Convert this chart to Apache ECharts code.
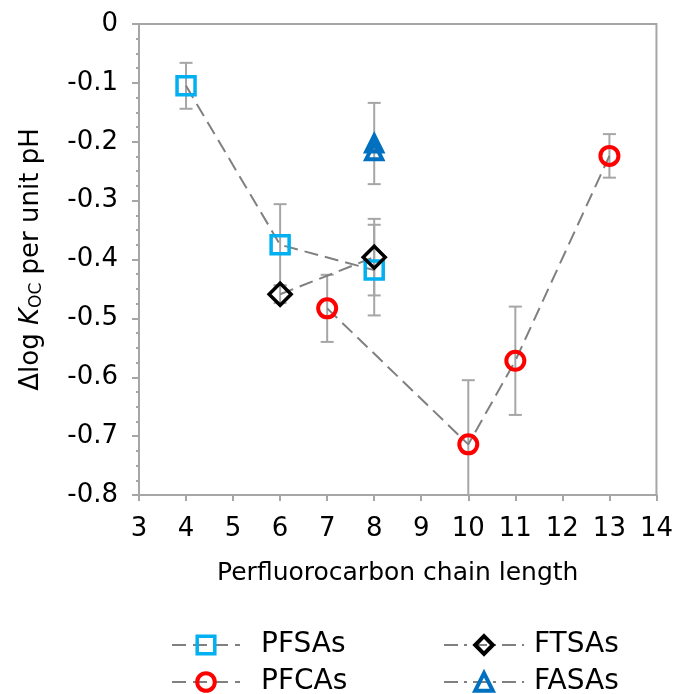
<!DOCTYPE html>
<html>
<head>
<meta charset="utf-8">
<script src="https://cdn.jsdelivr.net/npm/echarts@6/dist/echarts.min.js"></script>
<style>html,body{margin:0;padding:0;background:#fff;}#c{width:676px;height:694px;}</style>
</head>
<body>
<div id="c"></div>
<script>
// ---- data ----
var xTicks = [3,4,5,6,7,8,9,10,11,12,13,14];
var yTicks = [0,-0.1,-0.2,-0.3,-0.4,-0.5,-0.6,-0.7,-0.8];

var pfsaX = [4, 6, 8];
var pfsaY = [-0.105, -0.375, -0.418];
var pfsaErr = [0.039, 0.069, 0.077];

var ftsaX = [6, 8];
var ftsaY = [-0.459, -0.396];
var ftsaErr = [0.015, 0.065];

var pfcaX = [7, 10, 11, 13];
var pfcaY = [-0.483, -0.714, -0.572, -0.224];
var pfcaErr = [0.057, 0.109, 0.092, 0.037];

var fasaX = [8, 8];
var fasaY = [-0.203, -0.216];
var fasaErr = [0.069, 0];

function pts(xs, ys) { return xs.map(function (x, i) { return [x, ys[i]]; }); }
function errs(xs, ys, es) {
  var out = [];
  xs.forEach(function (x, i) { if (es[i] > 0) out.push([x, ys[i] - es[i], ys[i] + es[i]]); });
  return out;
}
var errData = [].concat(
  errs(pfsaX, pfsaY, pfsaErr),
  errs(ftsaX, ftsaY, ftsaErr),
  errs(pfcaX, pfcaY, pfcaErr),
  errs(fasaX, fasaY, fasaErr)
);

var FONT = 'DejaVu Sans';
var AX = '#A6A6A6';
var DASH = [14, 7];
var chart = echarts.init(document.getElementById('c'), null, { renderer: 'canvas' });

function lineSeries(name, data, symbol, size, color, bw) {
  return {
    name: name, type: 'line', data: data, symbol: symbol, symbolSize: size,
    z: 3,
    lineStyle: { color: '#808080', width: 2, type: DASH },
    itemStyle: { color: 'rgba(0,0,0,0)', borderColor: color, borderWidth: bw },
    emphasis: { disabled: true }
  };
}

var legendText = { fontFamily: FONT, fontSize: 28, color: '#000', lineHeight: 28 };
var dashDot = [14, 6, 3, 6];

var option = {
  animation: false,
  grid: { left: 139, right: 19, top: 24, bottom: 199, show: true, borderColor: AX, borderWidth: 2 },
  xAxis: {
    type: 'value', min: 3, max: 14, interval: 1,
    name: 'Perfluorocarbon chain length', nameLocation: 'middle', nameGap: 66,
    nameTextStyle: { fontFamily: FONT, fontSize: 25, color: '#000' },
    axisLine: { show: true, onZero: false, lineStyle: { color: AX, width: 2 } },
    axisTick: { show: true, inside: false, length: 6, lineStyle: { color: AX, width: 2 } },
    axisLabel: { fontFamily: FONT, fontSize: 26, color: '#000', margin: 21 },
    splitLine: { show: false }
  },
  yAxis: {
    type: 'value', min: -0.8, max: 0, interval: 0.1,
    name: 'Δlog {i|K}{sub|OC} per unit pH', nameLocation: 'middle', nameGap: 94,
    nameTextStyle: {
      fontFamily: FONT, fontSize: 26, color: '#000',
      rich: {
        i: { fontFamily: FONT, fontSize: 26, fontStyle: 'italic', color: '#000' },
        sub: { fontFamily: FONT, fontSize: 17, color: '#000', verticalAlign: 'bottom', padding: [10, 0, 0, 0] }
      }
    },
    axisLine: { show: true, onZero: false, lineStyle: { color: AX, width: 2 } },
    axisTick: { show: true, inside: false, length: 7, lineStyle: { color: AX, width: 2 } },
    minorTick: { show: true, splitNumber: 4, length: 3, lineStyle: { color: AX, width: 2 } },
    axisLabel: { fontFamily: FONT, fontSize: 26, color: '#000', margin: 21,
      formatter: function (v) { return v === 0 ? '0' : String(Math.round(v * 10) / 10); } },
    splitLine: { show: false }
  },
  legend: [
    {
      orient: 'vertical', left: 166, top: 626, height: 90, itemWidth: 68, itemHeight: 22, itemGap: 9,
      textStyle: Object.assign({ padding: [0, 0, 0, 16] }, legendText),
      data: [
        { name: 'PFSAs', itemStyle: { borderWidth: 3.5 } },
        { name: 'PFCAs', itemStyle: { borderWidth: 4 } }
      ],
      selectedMode: false
    },
    {
      orient: 'vertical', left: 438, top: 626, height: 90, itemWidth: 80, itemHeight: 22, itemGap: 9,
      textStyle: Object.assign({ padding: [0, 0, 0, 5] }, legendText),
      data: [
        { name: 'FTSAs', lineStyle: { type: dashDot }, itemStyle: { borderWidth: 4 } },
        { name: 'FASAs', lineStyle: { type: dashDot }, itemStyle: { borderWidth: 4 } }
      ],
      selectedMode: false
    }
  ],
  series: [
    {
      type: 'custom', name: 'err', z: 1, clip: true, silent: true,
      data: errData,
      renderItem: function (params, api) {
        var x = api.value(0);
        var lo = api.coord([x, api.value(1)]);
        var hi = api.coord([x, api.value(2)]);
        var cw = 6.5;
        var st = { stroke: AX, lineWidth: 2 };
        return {
          type: 'group',
          children: [
            { type: 'line', shape: { x1: lo[0], y1: lo[1], x2: hi[0], y2: hi[1] }, style: st },
            { type: 'line', shape: { x1: hi[0] - cw, y1: hi[1], x2: hi[0] + cw, y2: hi[1] }, style: st },
            { type: 'line', shape: { x1: lo[0] - cw, y1: lo[1], x2: lo[0] + cw, y2: lo[1] }, style: st }
          ]
        };
      },
      encode: { x: 0, y: [1, 2] }
    },
    lineSeries('PFSAs', pts(pfsaX, pfsaY), 'rect', 18, '#00B0F0', 3.5),
    lineSeries('PFCAs', pts(pfcaX, pfcaY), 'circle', 18, '#FF0000', 4),
    lineSeries('FTSAs', pts(ftsaX, ftsaY), 'diamond', 22, '#000000', 3.5),
    {
      name: 'FASAs', type: 'line', data: pts(fasaX, fasaY), symbol: 'triangle', symbolSize: 16, z: 3,
      lineStyle: { color: '#808080', width: 2, type: DASH },
      itemStyle: { color: 'rgba(0,0,0,0)', borderColor: '#0070C0', borderWidth: 4 },
      emphasis: { disabled: true }
    }
  ]
};
chart.setOption(option);
</script>
</body>
</html>
